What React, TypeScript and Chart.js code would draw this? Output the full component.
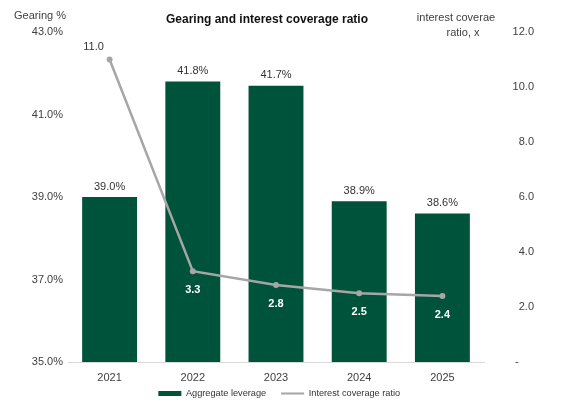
import React, { useEffect, useRef } from "react";
import { Chart, registerables } from "chart.js";

Chart.register(...registerables);

const years = ["2021", "2022", "2023", "2024", "2025"];
const aggregateLeverage = [39.0, 41.8, 41.7, 38.9, 38.6];
const interestCoverage = [11.0, 3.3, 2.8, 2.5, 2.4];
const leftTicks = [35, 37, 39, 41, 43];
const rightTicks = [0, 2, 4, 6, 8, 10, 12];

const FONT = "'Liberation Sans', Arial, sans-serif";
const BAR_COLOR = "#00533B";
const LINE_COLOR = "#A6A6A6";
const TEXT_COLOR = "#404040";

const labelsPlugin = {
  id: "customLabels",
  afterLayout(chart: any) {
    const lg = chart.legend;
    if (lg) {
      lg.top -= 11.1;
      lg.bottom -= 11.1;
      lg.left += 12.25;
      lg.right += 12.25;
    }
  },
  afterDatasetsDraw(chart: any) {
    const ctx = chart.ctx;
    ctx.save();
    chart.data.datasets.forEach((ds: any, di: number) => {
      const meta = chart.getDatasetMeta(di);
      meta.data.forEach((el: any, i: number) => {
        const v = ds.data[i];
        if (ds.type === "bar") {
          ctx.font = `11px ${FONT}`;
          ctx.fillStyle = "#333333";
          ctx.textAlign = "center";
          ctx.textBaseline = "bottom";
          ctx.fillText(v.toFixed(1) + "%", el.x, el.y - 5);
        } else {
          ctx.textAlign = "center";
          if (i === 0) {
            ctx.font = `11px ${FONT}`;
            ctx.fillStyle = "#333333";
            ctx.textBaseline = "bottom";
            ctx.fillText(v.toFixed(1), el.x - 16, el.y - 7);
          } else {
            ctx.font = `bold 11px ${FONT}`;
            ctx.fillStyle = "#FFFFFF";
            ctx.textBaseline = "top";
            ctx.fillText(v.toFixed(1), el.x, el.y + 13);
          }
        }
      });
    });
    ctx.restore();
  },
  afterDraw(chart: any) {
    const ctx = chart.ctx;
    ctx.save();
    ctx.fillStyle = "#111111";
    ctx.font = `bold 12px ${FONT}`;
    ctx.textAlign = "center";
    ctx.textBaseline = "middle";
    ctx.fillText("Gearing and interest coverage ratio", 267, 20);
    ctx.font = `11px ${FONT}`;
    ctx.fillStyle = TEXT_COLOR;
    ctx.textAlign = "left";
    ctx.fillText("Gearing %", 14, 16);
    ctx.textAlign = "center";
    ctx.fillText("interest coverae", 456, 18);
    ctx.fillText("ratio, x", 463, 33);
    ctx.restore();
  },
};

export default function App() {
  const ref = useRef<HTMLCanvasElement>(null);
  useEffect(() => {
    document.body.style.margin = "0";
    const chart = new Chart(ref.current!, {
      type: "bar",
      data: {
        labels: years,
        datasets: [
          {
            type: "bar",
            label: "Aggregate leverage",
            data: aggregateLeverage,
            backgroundColor: BAR_COLOR,
            borderWidth: 0,
            yAxisID: "y",
            order: 1,
            categoryPercentage: 0.66,
            barPercentage: 1,
          } as any,
          {
            type: "line",
            label: "Interest coverage ratio",
            data: interestCoverage,
            borderColor: LINE_COLOR,
            backgroundColor: LINE_COLOR,
            borderWidth: 2.5,
            pointRadius: 3,
            pointBackgroundColor: LINE_COLOR,
            pointBorderWidth: 0,
            tension: 0,
            yAxisID: "y1",
            order: 0,
          } as any,
        ],
      },
      options: {
        animation: false,
        responsive: false,
        layout: { padding: { top: 32, bottom: -16.2, left: 0, right: 30 } },
        plugins: {
          tooltip: { enabled: false },
          legend: {
            position: "bottom",
            labels: {
              font: { family: FONT, size: 9.2 },
              color: "#333333",
              usePointStyle: true,
              pointStyleWidth: 23,
              boxHeight: 5,
              padding: 15,
              sort: (a: any, b: any) => a.datasetIndex - b.datasetIndex,
              generateLabels: (chart: any) =>
                chart.data.datasets.map((ds: any, i: number) => ({
                  text: ds.label,
                  datasetIndex: i,
                  fillStyle: ds.type === "bar" ? BAR_COLOR : LINE_COLOR,
                  strokeStyle: ds.type === "bar" ? BAR_COLOR : LINE_COLOR,
                  lineWidth: ds.type === "bar" ? 0 : 2,
                  pointStyle: ds.type === "bar" ? "rect" : "line",
                  fontColor: "#333333",
                  hidden: false,
                })),
            },
          },
        },
        scales: {
          x: {
            grid: { display: false, drawTicks: false },
            border: { display: true, color: "#D9D9D9", width: 1 },
            ticks: { color: TEXT_COLOR, font: { family: FONT, size: 11 }, padding: 9 },
            afterFit: (scale: any) => {
              scale.height = 23;
            },
          },
          y: {
            position: "left",
            min: 35,
            max: 43,
            afterBuildTicks: (scale: any) => {
              scale.ticks = leftTicks.map((v) => ({ value: v }));
            },
            afterFit: (scale: any) => {
              scale.width = 68;
            },
            grid: { display: false, drawTicks: false },
            border: { display: false },
            ticks: {
              color: TEXT_COLOR,
              font: { family: FONT, size: 11 },
              padding: 5,
              callback: (v: any) => Number(v).toFixed(1) + "%",
            },
          },
          y1: {
            position: "right",
            min: 0,
            max: 12,
            afterBuildTicks: (scale: any) => {
              scale.ticks = rightTicks.map((v) => ({ value: v }));
            },
            afterFit: (scale: any) => {
              scale.width = 50;
            },
            grid: { display: false, drawTicks: false },
            border: { display: false },
            ticks: {
              color: TEXT_COLOR,
              font: { family: FONT, size: 11 },
              padding: 5,
              crossAlign: "far",
              callback: (v: any) => (Number(v) === 0 ? "-     " : Number(v).toFixed(1)),
            },
          },
        },
      },
      plugins: [labelsPlugin],
    });
    return () => chart.destroy();
  }, []);
  return (
    <div style={{ width: 564, height: 403 }}>
      <canvas ref={ref} width={564} height={403} />
    </div>
  );
}
